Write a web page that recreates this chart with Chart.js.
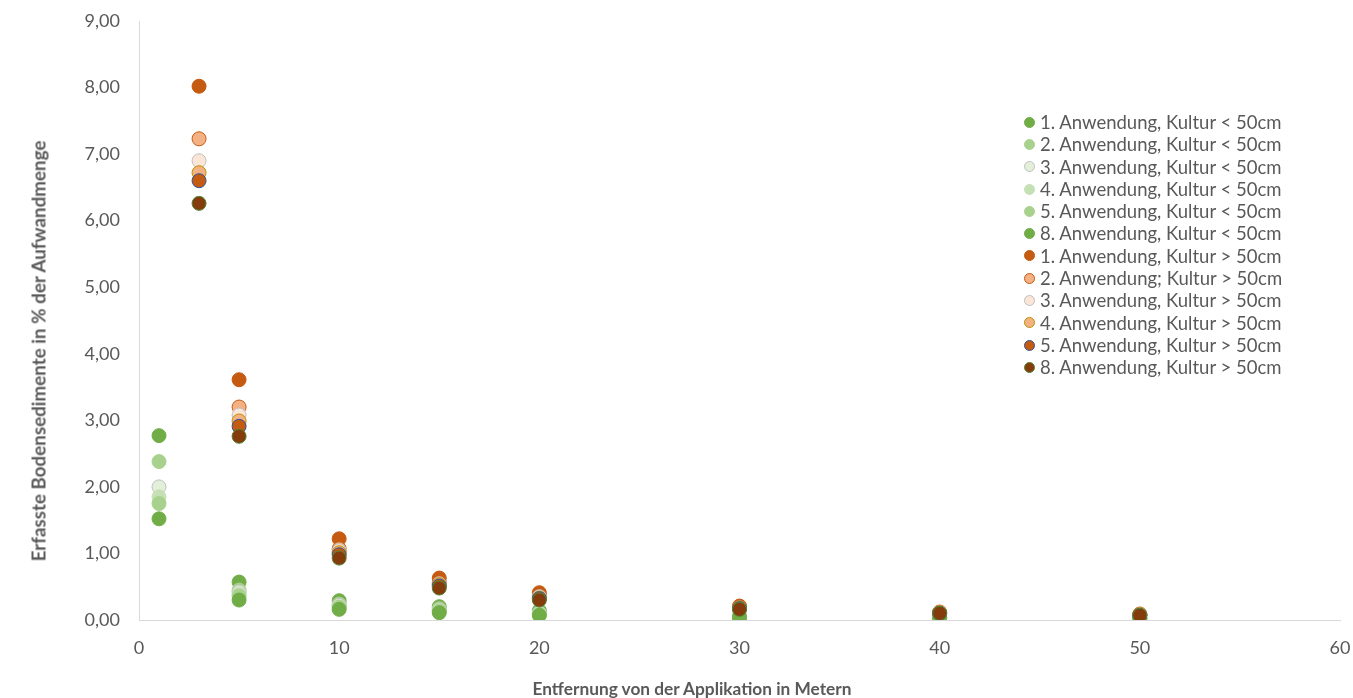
<!DOCTYPE html>
<html>
<head>
<meta charset="utf-8">
<script src="https://cdn.jsdelivr.net/npm/chart.js@4/dist/chart.umd.min.js"></script>
<style>
    html, body { margin: 0; padding: 0; background: #fff; overflow: hidden; }
    #wrap { position: relative; width: 1353px; height: 698px; }
    #legend { position: absolute; left: 1024px; top: 111px; font-family: Lato, 'Open Sans', sans-serif; font-size: 18.5px; color: #595959; }
    #legend .item { height: 22.3px; line-height: 22.3px; white-space: nowrap; display: flex; align-items: center; }
    #legend .dot { width: 11px; height: 11px; border-radius: 50%; box-sizing: border-box; border: 1px solid; margin-right: 5px; }
    .axis-title { position: absolute; font-family: Lato, 'Open Sans', sans-serif; font-weight: bold; color: #595959; white-space: nowrap; transform: translate(-50%, -50%); }
    #xtitle { left: 692px; top: 688px; font-size: 17.3px; }
    #ytitle { left: 38px; top: 351px; font-size: 18.8px; transform: translate(-50%, -50%) rotate(-90deg); }
</style>
</head>
<body>
<div id="wrap">
    <canvas id="chart" width="1353" height="698"></canvas>
    <div id="legend"></div>
    <div id="xtitle" class="axis-title">Entfernung von der Applikation in Metern</div>
    <div id="ytitle" class="axis-title">Erfasste Bodensedimente in % der Aufwandmenge</div>
</div>
<script>
// Distances (m)
const xKlein = [1, 5, 10, 15, 20, 30, 40, 50];
const xGross = [3, 5, 10, 15, 20, 30, 40, 50];

// Kultur < 50cm
const k1 = [2.77, 0.57, 0.29, 0.20, 0.14, 0.06, 0.04, 0.03];
const k2 = [2.38, 0.45, 0.24, 0.17, 0.11, 0.05, 0.04, 0.03];
const k3 = [2.00, 0.42, 0.22, 0.15, 0.10, 0.05, 0.03, 0.02];
const k4 = [1.85, 0.39, 0.20, 0.14, 0.09, 0.05, 0.03, 0.02];
const k5 = [1.75, 0.36, 0.19, 0.13, 0.08, 0.04, 0.03, 0.02];
const k8 = [1.52, 0.30, 0.16, 0.11, 0.07, 0.04, 0.03, 0.02];

// Kultur > 50cm
const g1 = [8.02, 3.61, 1.22, 0.63, 0.41, 0.21, 0.12, 0.09];
const g2 = [7.23, 3.20, 1.07, 0.56, 0.36, 0.19, 0.11, 0.08];
const g3 = [6.90, 3.08, 1.04, 0.54, 0.35, 0.18, 0.11, 0.08];
const g4 = [6.72, 2.99, 1.01, 0.53, 0.33, 0.18, 0.11, 0.08];
const g5 = [6.60, 2.91, 0.98, 0.51, 0.32, 0.17, 0.10, 0.07];
const g8 = [6.26, 2.76, 0.93, 0.48, 0.30, 0.16, 0.10, 0.07];

const yTicks = [0, 1, 2, 3, 4, 5, 6, 7, 8, 9];

function pts(xs, ys) {
    return xs.map((x, i) => ({ x: x, y: ys[i] }));
}

const series = [
    { label: '1. Anwendung, Kultur < 50cm', x: xKlein, y: k1, fill: '#70AD47', border: '#70AD47' },
    { label: '2. Anwendung, Kultur < 50cm', x: xKlein, y: k2, fill: '#A9D18E', border: '#A9D18E' },
    { label: '3. Anwendung, Kultur < 50cm', x: xKlein, y: k3, fill: '#E2F0D9', border: '#BFBFBF' },
    { label: '4. Anwendung, Kultur < 50cm', x: xKlein, y: k4, fill: '#C5E0B4', border: '#C5E0B4' },
    { label: '5. Anwendung, Kultur < 50cm', x: xKlein, y: k5, fill: '#A9D18E', border: '#A9D18E' },
    { label: '8. Anwendung, Kultur < 50cm', x: xKlein, y: k8, fill: '#70AD47', border: '#70AD47' },
    { label: '1. Anwendung, Kultur > 50cm', x: xGross, y: g1, fill: '#C55A11', border: '#C55A11' },
    { label: '2. Anwendung; Kultur > 50cm', x: xGross, y: g2, fill: '#F4B183', border: '#C55A11' },
    { label: '3. Anwendung, Kultur > 50cm', x: xGross, y: g3, fill: '#FBE5D6', border: '#BFBFBF' },
    { label: '4. Anwendung, Kultur > 50cm', x: xGross, y: g4, fill: '#F4B183', border: '#BF9000' },
    { label: '5. Anwendung, Kultur > 50cm', x: xGross, y: g5, fill: '#C55A11', border: '#2F5597' },
    { label: '8. Anwendung, Kultur > 50cm', x: xGross, y: g8, fill: '#843C0C', border: '#548235' }
];

const datasets = series.map((s, i) => ({
    label: s.label,
    data: pts(s.x, s.y),
    backgroundColor: s.fill,
    borderColor: s.border,
    borderWidth: 1,
    pointRadius: 7,
    pointHoverRadius: 7,
    order: series.length - i
}));

Chart.defaults.font.family = 'Lato, "Open Sans", sans-serif';
Chart.defaults.color = '#595959';

new Chart(document.getElementById('chart'), {
    type: 'scatter',
    data: { datasets: datasets },
    options: {
        responsive: false,
        animation: false,
        layout: { padding: { top: 21, right: 13, left: 0, bottom: 0 } },
        plugins: { legend: { display: false }, tooltip: { enabled: false } },
        scales: {
            x: {
                type: 'linear', min: 0, max: 60,
                ticks: { stepSize: 10, padding: 17, font: { size: 18 }, maxRotation: 0 },
                grid: { display: false, drawTicks: false },
                border: { color: '#D9D9D9', width: 1 },
                afterFit: (s) => { s.height = 78; s.paddingLeft = 0; s.paddingRight = 0; }
            },
            y: {
                type: 'linear', min: 0, max: 9,
                afterBuildTicks: (s) => { s.ticks = yTicks.map(v => ({ value: v })); },
                ticks: { padding: 19, font: { size: 18 }, callback: (v) => v.toFixed(2).replace('.', ',') },
                grid: { display: false, drawTicks: false },
                border: { color: '#D9D9D9', width: 1 },
                afterFit: (s) => { s.width = 139; s.paddingTop = 0; s.paddingBottom = 0; }
            }
        }
    }
});

const legend = document.getElementById('legend');
series.forEach(s => {
    const row = document.createElement('div');
    row.className = 'item';
    const dot = document.createElement('span');
    dot.className = 'dot';
    dot.style.background = s.fill;
    dot.style.borderColor = s.border;
    row.appendChild(dot);
    row.appendChild(document.createTextNode(s.label));
    legend.appendChild(row);
});
</script>
</body>
</html>
